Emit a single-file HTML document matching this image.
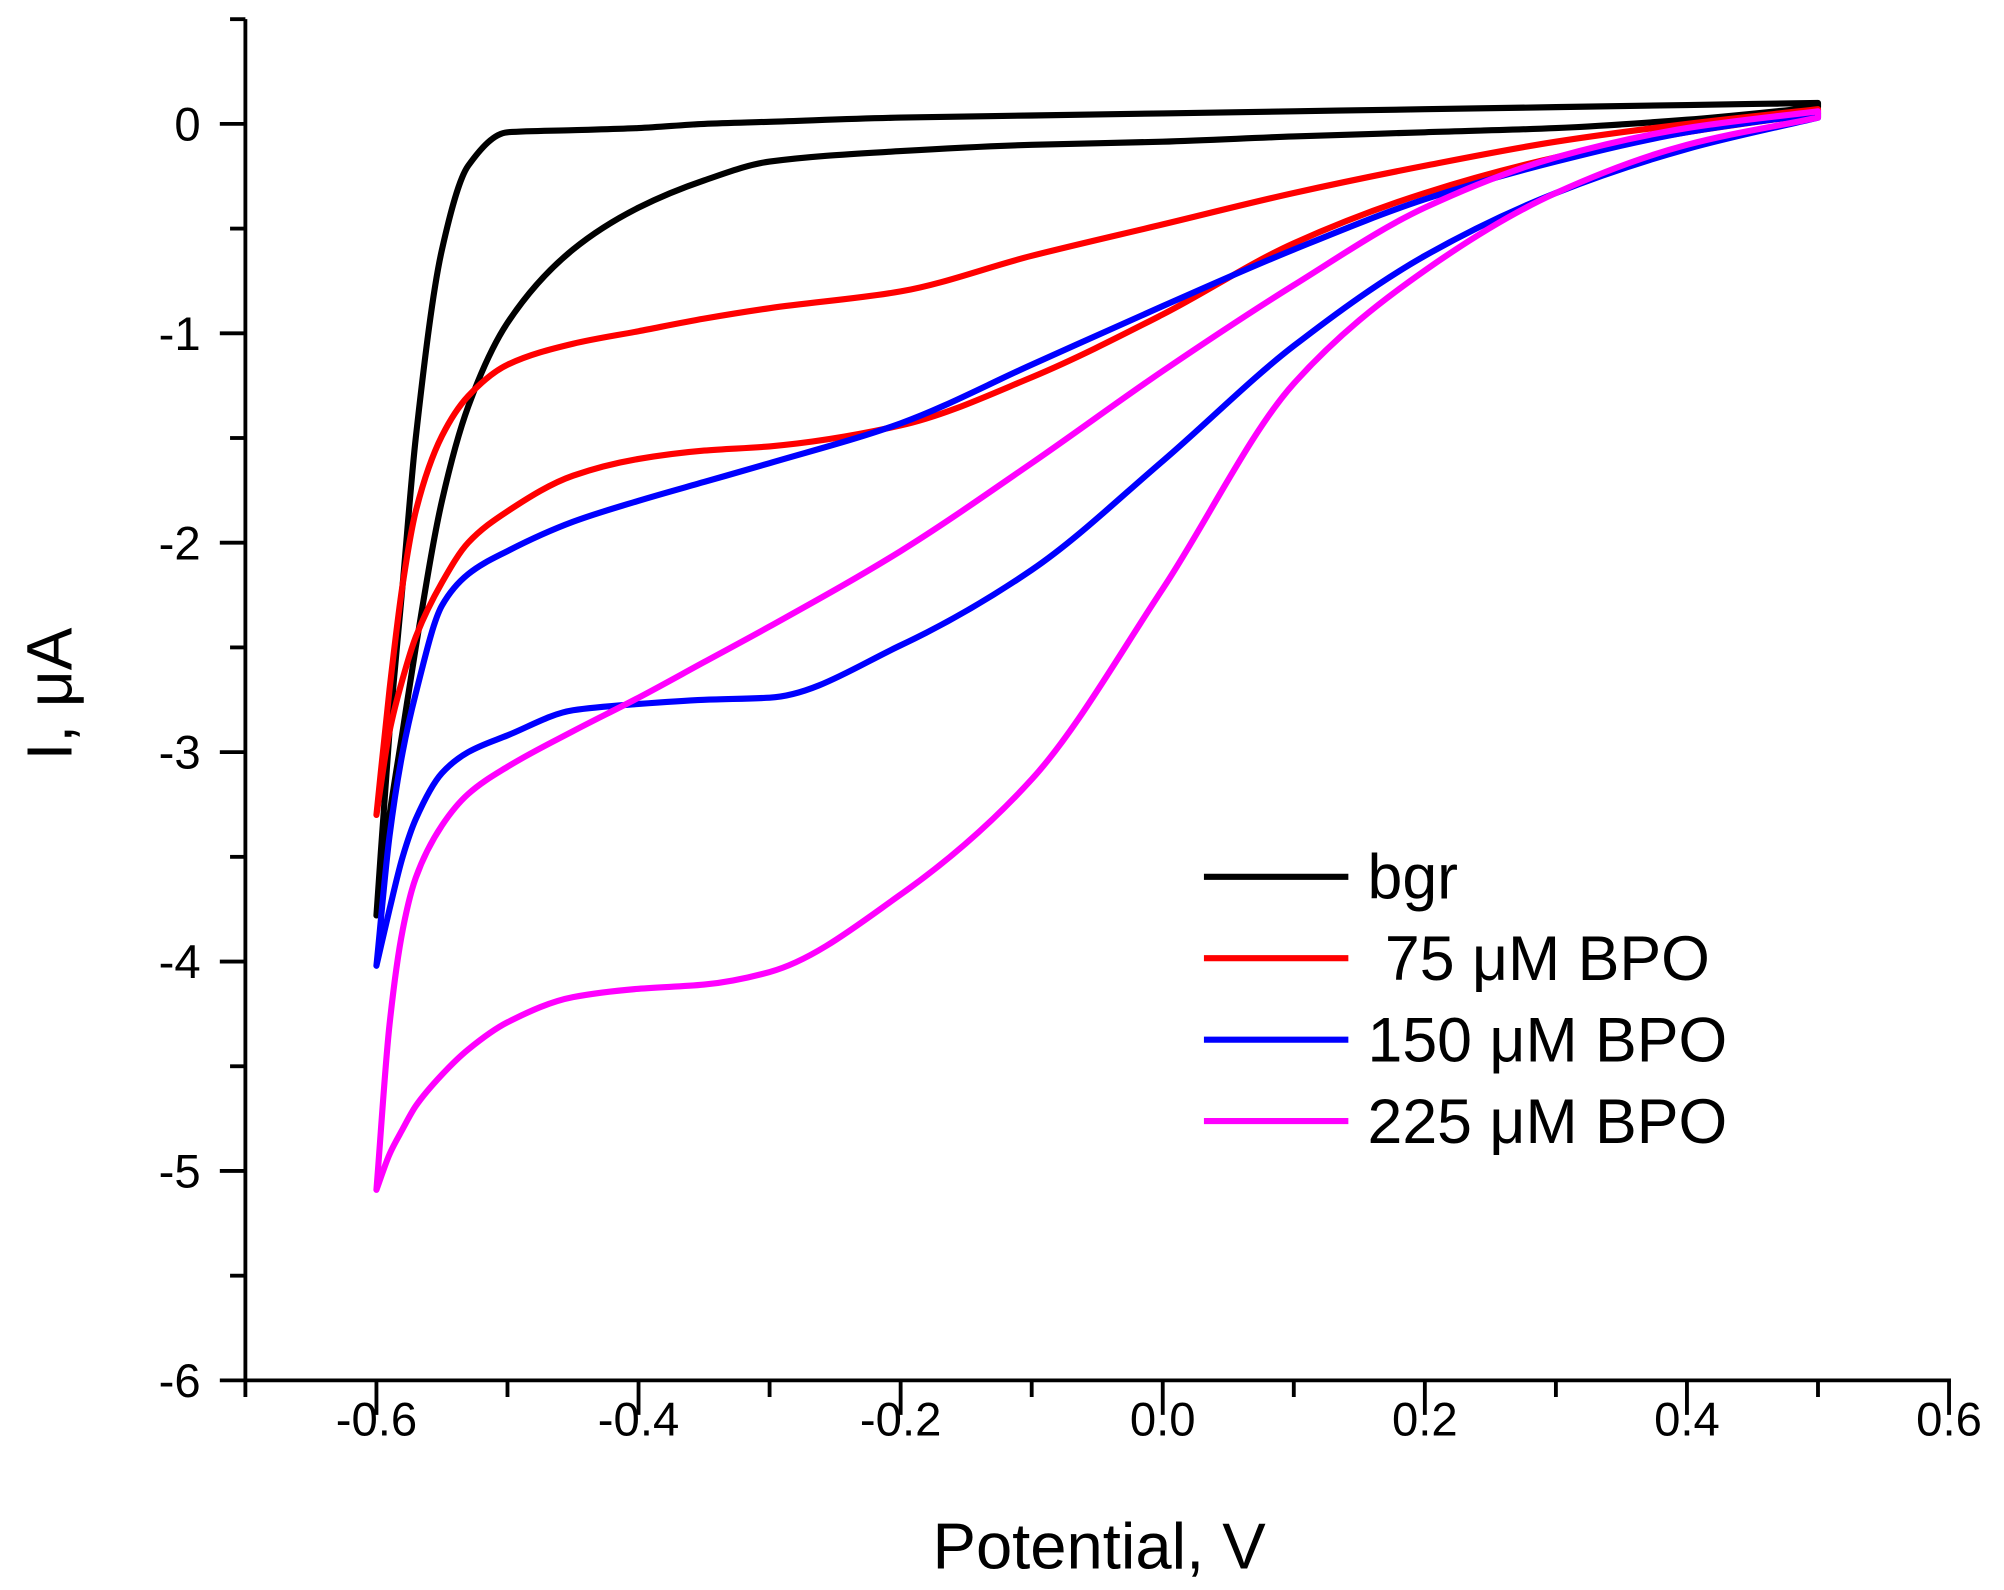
<!DOCTYPE html>
<html><head><meta charset="utf-8"><style>
html,body{margin:0;padding:0;background:#fff;}
svg{display:block;}
text{font-family:"Liberation Sans",Arial,sans-serif;fill:#000;}
</style></head><body>
<svg id="chart" width="2004" height="1590" viewBox="0 0 1568 1244" preserveAspectRatio="none" xmlns="http://www.w3.org/2000/svg">
<g id="axes"></g>
<g id="series"></g>
<g id="legend"></g>
</svg>
<script>
const potentials = [-0.6,-0.59,-0.58,-0.57,-0.55,-0.53,-0.5,-0.45,-0.4,-0.35,-0.3,-0.2,-0.1,0,0.1,0.2,0.3,0.4,0.5];
const bgrOuter = [-3.78,-2.9,-2.2,-1.5,-0.6,-0.2,-0.04,-0.03,-0.02,0.0,0.01,0.03,0.04,0.05,0.06,0.07,0.08,0.09,0.1];
const bgrInner = [-3.78,-3.3,-2.9,-2.5,-1.8,-1.35,-0.95,-0.6,-0.4,-0.27,-0.18,-0.13,-0.1,-0.085,-0.06,-0.04,-0.02,0.02,0.08];
const bpo75Outer = [-3.3,-2.7,-2.2,-1.85,-1.49,-1.3,-1.15,-1.05,-0.99,-0.93,-0.88,-0.8,-0.63,-0.48,-0.33,-0.2,-0.085,0,0.07];
const bpo75Inner = [-3.3,-2.9,-2.65,-2.45,-2.19,-2.0,-1.85,-1.68,-1.6,-1.56,-1.54,-1.44,-1.21,-0.91,-0.57,-0.33,-0.16,-0.04,0.05];
const bpo150Outer = [-4.02,-3.4,-3.0,-2.72,-2.3,-2.15,-2.04,-1.9,-1.8,-1.71,-1.62,-1.43,-1.15,-0.87,-0.6,-0.36,-0.18,-0.04,0.05];
const bpo150Inner = [-4.02,-3.75,-3.5,-3.32,-3.1,-3.0,-2.92,-2.8,-2.77,-2.75,-2.74,-2.49,-2.13,-1.61,-1.06,-0.63,-0.33,-0.12,0.03];
const bpo225Outer = [-5.09,-4.3,-3.85,-3.6,-3.35,-3.2,-3.07,-2.9,-2.74,-2.57,-2.4,-2.04,-1.62,-1.18,-0.77,-0.4,-0.16,-0.02,0.06];
const bpo225Inner = [-5.09,-4.92,-4.8,-4.69,-4.54,-4.42,-4.29,-4.17,-4.13,-4.11,-4.05,-3.68,-3.13,-2.22,-1.24,-0.7,-0.33,-0.1,0.03];
const seriesLabels = ["bgr"," 75 \u03BCM BPO","150 \u03BCM BPO","225 \u03BCM BPO"];
const seriesColors = ["#000000","#ff0000","#0000ff","#ff00ff"];
const xTickLabels = ["-0.6","-0.4","-0.2","0.0","0.2","0.4","0.6"];
const yTickLabels = ["0","-1","-2","-3","-4","-5","-6"];

const NS="http://www.w3.org/2000/svg";
const X0=192, X1=1525, XMIN=-0.7, XMAX=0.6;
const YTOP=15, YBOT=1080, YMIN=-6, YMAX=0.5;
function xs(v){return X0+(v-XMIN)/(XMAX-XMIN)*(X1-X0);}
function ys(v){return YBOT-(v-YMIN)/(YMAX-YMIN)*(YBOT-YTOP);}
function mk(tag,attrs,parent){const e=document.createElementNS(NS,tag);for(const k in attrs)e.setAttribute(k,attrs[k]);parent.appendChild(e);return e;}

const axes=document.getElementById('axes');
const yAxis=mk('line',{x1:X0,y1:YTOP,x2:X0,y2:YBOT,stroke:'#000','stroke-width':3},axes);


const xAxis=mk('line',{x1:X0-1.5,y1:YBOT,x2:X1+1.5,y2:YBOT,stroke:'#000','stroke-width':3},axes);



for(let v=0.5; v>=-6.001; v-=0.5){
  const major=Math.abs(v-Math.round(v))<1e-6;
  const t=mk('line',{x1:X0-(major?20:12),y1:ys(v),x2:X0,y2:ys(v),stroke:'#000','stroke-width':3},axes);
  
  
}
yTickLabels.forEach(lbl=>{
  const v=parseFloat(lbl);
  const t=mk('text',{x:157,y:ys(v)+13,'text-anchor':'end','font-size':37},axes);
  t.textContent=lbl;
  
  
});
for(let i=0;i<=13;i++){
  const v=-0.7+i*0.1;
  const major=(i%2===1);
  const t=mk('line',{x1:xs(v),y1:YBOT,x2:xs(v),y2:YBOT+(major?27:13),stroke:'#000','stroke-width':3},axes);
  
  
}
xTickLabels.forEach(lbl=>{
  const v=parseFloat(lbl);
  const t=mk('text',{x:xs(v),y:1123,'text-anchor':'middle','font-size':37},axes);
  t.textContent=lbl;
  
  
});
const xt=mk('text',{x:860,y:1227,'text-anchor':'middle','font-size':51},axes);
xt.textContent='Potential, V';


const yt=mk('text',{x:0,y:0,'text-anchor':'middle','font-size':50,transform:'translate(56,543) rotate(-90)'},axes);
yt.textContent='I, \u03BCA';



function monoPath(vs,is){
  const X=vs.map(xs), Y=is.map(ys), n=X.length;
  const d=[],m=new Array(n);
  for(let i=0;i<n-1;i++) d.push((Y[i+1]-Y[i])/(X[i+1]-X[i]));
  m[0]=d[0]; m[n-1]=d[n-2];
  for(let i=1;i<n-1;i++){
    if(d[i-1]*d[i]<=0) m[i]=0;
    else { const h0=X[i]-X[i-1],h1=X[i+1]-X[i]; const w1=2*h1+h0,w2=h1+2*h0; m[i]=(w1+w2)/(w1/d[i-1]+w2/d[i]); }
  }
  const segs=[];
  for(let i=0;i<n-1;i++){
    const h=X[i+1]-X[i];
    segs.push([X[i]+h/3,Y[i]+m[i]*h/3,X[i+1]-h/3,Y[i+1]-m[i+1]*h/3,X[i+1],Y[i+1]]);
  }
  return {X,Y,segs};
}
function loopPath(vs,outer,inner){
  const a=monoPath(vs,outer), b=monoPath(vs,inner);
  let d=`M${a.X[0]},${a.Y[0]}`;
  a.segs.forEach(s=>{d+=` C${s[0]},${s[1]} ${s[2]},${s[3]} ${s[4]},${s[5]}`;});
  d+=` L${b.X[b.X.length-1]},${b.Y[b.Y.length-1]}`;
  for(let i=b.segs.length-1;i>=0;i--){
    const s=b.segs[i];
    d+=` C${s[2]},${s[3]} ${s[0]},${s[1]} ${b.X[i]},${b.Y[i]}`;
  }
  return d;
}
const seriesData=[[bgrOuter,bgrInner],[bpo75Outer,bpo75Inner],[bpo150Outer,bpo150Inner],[bpo225Outer,bpo225Inner]];
const sg=document.getElementById('series');
const names=['bgr-curve','bpo-75-curve','bpo-150-curve','bpo-225-curve'];
seriesData.forEach((s,k)=>{
  const path=mk('path',{d:loopPath(potentials,s[0],s[1]),fill:'none',stroke:seriesColors[k],'stroke-width':4.8,'stroke-linejoin':'round','stroke-linecap':'round'},sg);
  
  
});

const lg=document.getElementById('legend');
seriesLabels.forEach((lbl,k)=>{
  const y=686+k*63.7;
  const ln=mk('line',{x1:942,y1:y,x2:1055,y2:y,stroke:seriesColors[k],'stroke-width':4.8},lg);
  
  
  const t=mk('text',{x:1070,y:y+17,'font-size':49},lg);
  t.setAttribute('style','white-space:pre');
  t.textContent=lbl;
  
  
});
</script>
</body></html>
